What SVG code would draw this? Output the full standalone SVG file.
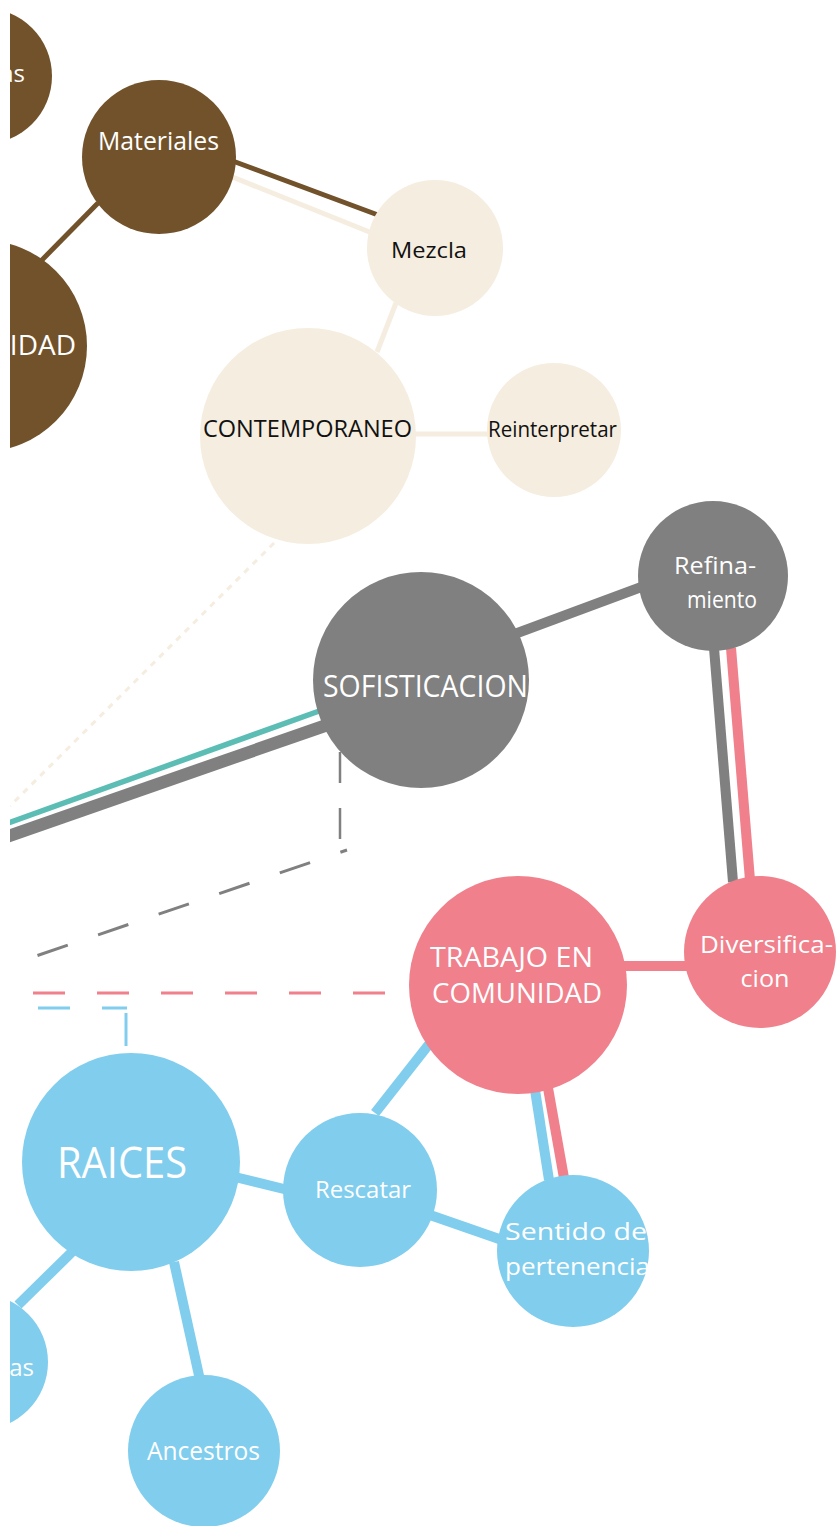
<svg xmlns="http://www.w3.org/2000/svg" width="836" height="1526" viewBox="0 0 836 1526">
<defs>
<clipPath id="clip"><rect x="10" y="0" width="826" height="1526"/></clipPath>
<style>
.brown{fill:#71522b}
.cream{fill:#f5eddf}
.gray{fill:#808080}
.pink{fill:#f0808b}
.blue{fill:#80cdee}
text{font-family:"Open Sans","Liberation Sans",sans-serif;text-anchor:middle}
.w{fill:#ffffff}
.k{fill:#111111}
.lb{stroke:#71522b;stroke-width:5;fill:none}
.lc{stroke:#f5eddf;stroke-width:5;fill:none}
.lg{stroke:#808080;stroke-width:10;fill:none}
.lp{stroke:#f0808b;stroke-width:10;fill:none}
.lu{stroke:#80cdee;stroke-width:10;fill:none}
.dash{stroke-width:3;fill:none;stroke-dasharray:32 32}
</style>
</defs>
<rect x="0" y="0" width="836" height="1526" fill="#ffffff"/>
<g clip-path="url(#clip)">
<g id="connectors">
<line class="lb" x1="98" y1="203" x2="40" y2="262"/>
<line class="lb" x1="230" y1="160" x2="378" y2="215"/>
<line class="lc" x1="230" y1="176" x2="372" y2="233"/>
<line class="lc" x1="396" y1="303" x2="377" y2="352"/>
<line class="lc" x1="415" y1="434" x2="489" y2="434"/>
<line x1="274" y1="543" x2="10" y2="806" stroke="#f5eddf" stroke-width="3" stroke-dasharray="6 6"/>
<line class="lg" x1="512" y1="635" x2="644" y2="586" stroke-width="9"/>
<line x1="322" y1="710" x2="0" y2="826" stroke="#5cbdb5" stroke-width="5.5"/>
<line x1="330" y1="724" x2="0" y2="839" stroke="#808080" stroke-width="12.5"/>
<line x1="340" y1="752" x2="340" y2="840" stroke="#808080" stroke-width="2.5" stroke-dasharray="31 25"/>
<line x1="347" y1="850" x2="36" y2="956" stroke="#808080" stroke-width="3" stroke-dasharray="32 32" stroke-dashoffset="25"/>
<line class="dash" x1="33" y1="993" x2="385" y2="993" stroke="#f0808b"/>
<line class="dash" x1="38" y1="1008" x2="127" y2="1008" stroke="#80cdee"/>
<line x1="126" y1="1013" x2="126" y2="1046" stroke="#80cdee" stroke-width="3"/>
<line class="lp" x1="620" y1="966" x2="690" y2="966"/>
<line class="lg" x1="714" y1="648" x2="733" y2="882"/>
<line class="lp" x1="731" y1="648" x2="750" y2="880"/>
<line class="lu" x1="430" y1="1043" x2="375" y2="1113"/>
<line class="lu" x1="535" y1="1090" x2="549" y2="1180"/>
<line class="lp" x1="548" y1="1088" x2="564" y2="1178"/>
<line class="lu" x1="430" y1="1215" x2="502" y2="1240"/>
<line class="lu" x1="235" y1="1177" x2="288" y2="1190"/>
<line class="lu" x1="74" y1="1250" x2="18" y2="1305"/>
<line class="lu" x1="174" y1="1262" x2="200" y2="1380" stroke-width="12"/>
</g>
<g id="node-top-left"><circle class="brown" cx="-16" cy="76" r="68"/><text class="w" x="25" y="82" font-size="24" style="text-anchor:end">as</text></g>
<g id="node-identidad"><circle class="brown" cx="-19" cy="346" r="106"/><text class="w" x="76" y="355" font-size="28" style="text-anchor:end">IDAD</text></g>
<g id="node-materiales"><circle class="brown" cx="159" cy="157" r="77"/><text class="w" x="158.5" y="150" font-size="25" textLength="121" lengthAdjust="spacingAndGlyphs">Materiales</text></g>
<g id="node-mezcla"><circle class="cream" cx="435" cy="248" r="68"/><text class="k" x="429" y="258" font-size="22" textLength="76" lengthAdjust="spacingAndGlyphs">Mezcla</text></g>
<g id="node-contemporaneo"><circle class="cream" cx="308" cy="436" r="108"/><text class="k" x="307.5" y="437" font-size="24" textLength="209" lengthAdjust="spacingAndGlyphs">CONTEMPORANEO</text></g>
<g id="node-reinterpretar"><circle class="cream" cx="554" cy="430" r="67"/><text class="k" x="552.5" y="437" font-size="21" textLength="129" lengthAdjust="spacingAndGlyphs">Reinterpretar</text></g>
<g id="node-sofisticacion"><circle class="gray" cx="421" cy="680" r="108"/><text class="w" x="425.5" y="697" font-size="31" textLength="205" lengthAdjust="spacingAndGlyphs">SOFISTICACION</text></g>
<g id="node-refinamiento"><circle class="gray" cx="713" cy="576" r="75"/><text class="w" x="715" y="574" font-size="24" textLength="82" lengthAdjust="spacingAndGlyphs">Refina-</text><text class="w" x="722" y="608" font-size="24" textLength="70" lengthAdjust="spacingAndGlyphs">miento</text></g>
<g id="node-trabajo"><circle class="pink" cx="518" cy="985" r="109"/><text class="w" x="511.5" y="967" font-size="28" textLength="163" lengthAdjust="spacingAndGlyphs">TRABAJO EN</text><text class="w" x="517" y="1003" font-size="28" textLength="170" lengthAdjust="spacingAndGlyphs">COMUNIDAD</text></g>
<g id="node-diversificacion"><circle class="pink" cx="760" cy="952" r="76"/><text class="w" x="766.5" y="953" font-size="24" textLength="133" lengthAdjust="spacingAndGlyphs">Diversifica-</text><text class="w" x="765" y="987" font-size="24" textLength="49" lengthAdjust="spacingAndGlyphs">cion</text></g>
<g id="node-raices"><circle class="blue" cx="131" cy="1162" r="109"/><text class="w" x="122" y="1178" font-size="43" textLength="130" lengthAdjust="spacingAndGlyphs">RAICES</text></g>
<g id="node-rescatar"><circle class="blue" cx="360" cy="1190" r="77"/><text class="w" x="363" y="1198" font-size="24" textLength="96" lengthAdjust="spacingAndGlyphs">Rescatar</text></g>
<g id="node-sentido"><circle class="blue" cx="573" cy="1251" r="76"/><text class="w" x="576" y="1240" font-size="24" textLength="142" lengthAdjust="spacingAndGlyphs">Sentido de</text><text class="w" x="577.5" y="1275" font-size="24" textLength="145" lengthAdjust="spacingAndGlyphs">pertenencia</text></g>
<g id="node-bottom-left"><circle class="blue" cx="-20" cy="1362" r="68"/><text class="w" x="34" y="1376" font-size="24" style="text-anchor:end">as</text></g>
<g id="node-ancestros"><circle class="blue" cx="204" cy="1451" r="76"/><text class="w" x="203.5" y="1460" font-size="25" textLength="113" lengthAdjust="spacingAndGlyphs">Ancestros</text></g>
</g>
</svg>
